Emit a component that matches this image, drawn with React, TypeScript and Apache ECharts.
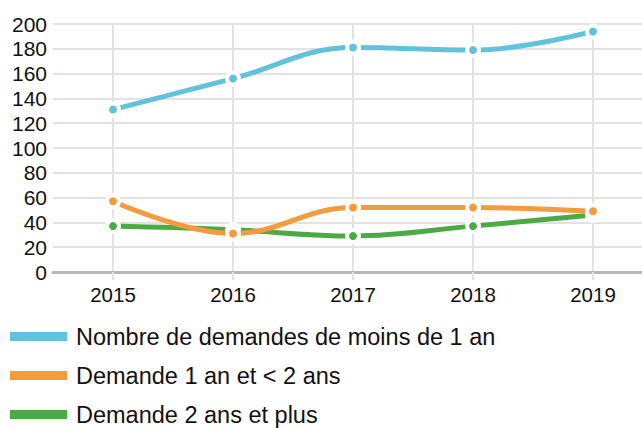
import React, { useEffect, useRef } from "react";
import * as echarts from "echarts";

const years = ["2015", "2016", "2017", "2018", "2019"];
const seriesNames = [
  "Nombre de demandes de moins de 1 an",
  "Demande 1 an et < 2 ans",
  "Demande 2 ans et plus",
];
const moinsUnAn = [131, 156, 181, 179, 194];
const unADeuxAns = [57, 31, 52, 52, 49];
const deuxAnsPlus = [37, 34, 29, 37, 46];
const colors = ["#62c2db", "#f59a3d", "#4caa44"];

export default function App() {
  const ref = useRef<HTMLDivElement>(null);
  useEffect(() => {
    if (!ref.current) return;
    const chart = echarts.init(ref.current, null, { renderer: "svg" });
    const font = "Liberation Sans, Arial, sans-serif";
    const mk = (name: string, data: number[], color: string, z: number) => ({
      name,
      type: "line",
      data,
      smooth: 0.4,
      z,
      symbol: "circle",
      symbolSize: 12,
      showSymbol: true,
      lineStyle: { width: 5, color },
      itemStyle: { color, borderColor: "#ffffff", borderWidth: 4 },
    });
    chart.setOption({
      animation: false,
      color: colors,
      textStyle: { fontFamily: font },
      grid: { left: 53, top: 24, width: 600, height: 248, containLabel: false },
      legend: {
        orient: "vertical",
        left: 5,
        top: 319.5,
        height: 110,
        icon: "rect",
        itemWidth: 57,
        itemHeight: 9,
        itemGap: 15,
        itemStyle: { borderWidth: 0 },
        lineStyle: { width: 9, cap: "butt" },
        textStyle: { fontSize: 23.5, color: "#111", fontFamily: font, padding: [0, 0, 0, 4] },
        data: seriesNames,
      },
      xAxis: {
        type: "category",
        data: years,
        boundaryGap: true,
        axisLine: { lineStyle: { color: "#b8b8b8", width: 3 } },
        axisTick: { show: true, alignWithLabel: true, length: 8, lineStyle: { color: "#e2e2e2", width: 2 } },
        axisLabel: { fontSize: 20.5, color: "#111", margin: 12, fontFamily: font },
        splitLine: { show: true, alignWithLabel: true, lineStyle: { color: "#e2e2e2", width: 2 } },
      },
      yAxis: {
        type: "value",
        min: 0,
        max: 200,
        interval: 20,
        axisLine: { show: false },
        axisTick: { show: false },
        axisLabel: { fontSize: 21, color: "#111", margin: 6, fontFamily: font },
        splitLine: { lineStyle: { color: "#e2e2e2", width: 2 } },
      },
      series: [
        mk(seriesNames[0], moinsUnAn, colors[0], 3),
        mk(seriesNames[1], unADeuxAns, colors[1], 3),
        mk(seriesNames[2], deuxAnsPlus, colors[2], 2),
      ],
    });
    return () => chart.dispose();
  }, []);
  return (
    <div style={{ width: 642, height: 428, position: "absolute", left: 0, top: 0, overflow: "hidden" }}>
      <div ref={ref} style={{ width: 666, height: 428 }} />
    </div>
  );
}
